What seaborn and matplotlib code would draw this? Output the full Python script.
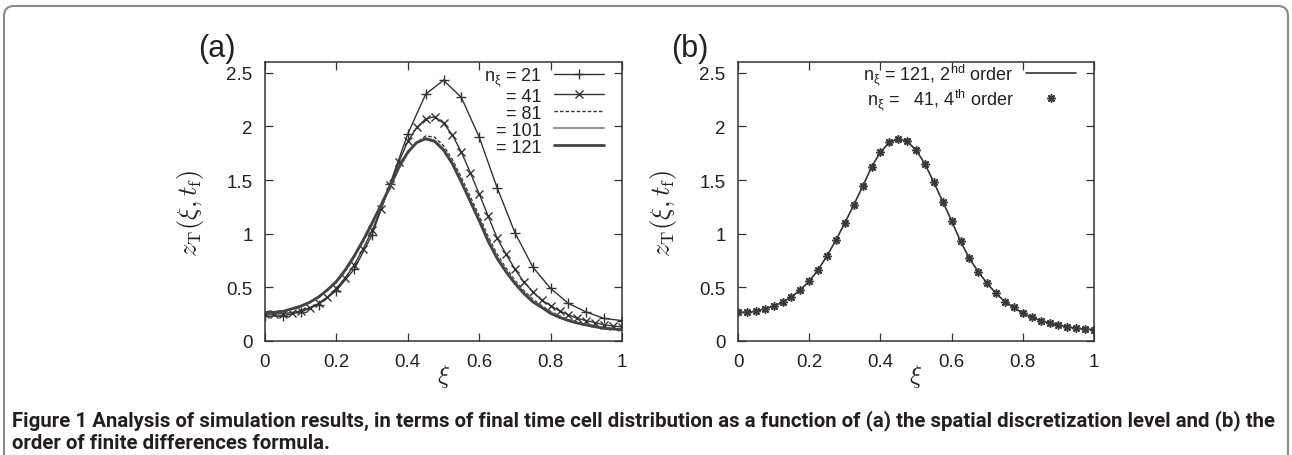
import numpy as np
import pandas as pd
import seaborn as sns
import matplotlib
matplotlib.use("Agg")
import matplotlib.pyplot as plt
from matplotlib.patches import FancyBboxPatch
from matplotlib import font_manager as fm

# ---------------- data ----------------
xi_21 = [0.0, 0.05, 0.1, 0.15, 0.2, 0.25, 0.3, 0.35, 0.4, 0.45, 0.5,
         0.55, 0.6, 0.65, 0.7, 0.75, 0.8, 0.85, 0.9, 0.95, 1.0]
z_21 = [0.23, 0.235, 0.27, 0.34, 0.47, 0.67, 0.99, 1.46, 1.93, 2.30, 2.43,
        2.27, 1.90, 1.43, 1.01, 0.69, 0.49, 0.35, 0.27, 0.21, 0.19]

xi_41 = [0.0, 0.025, 0.05, 0.075, 0.1, 0.125, 0.15, 0.175, 0.2, 0.225, 0.25,
         0.275, 0.3, 0.325, 0.35, 0.375, 0.4, 0.425, 0.45, 0.475, 0.5,
         0.525, 0.55, 0.575, 0.6, 0.625, 0.65, 0.675, 0.7, 0.725, 0.75,
         0.775, 0.8, 0.825, 0.85, 0.875, 0.9, 0.925, 0.95, 0.975, 1.0]
z_41 = [0.25, 0.25, 0.255, 0.265, 0.28, 0.31, 0.35, 0.41, 0.49, 0.59, 0.71,
        0.86, 1.03, 1.23, 1.45, 1.67, 1.86, 1.99, 2.07, 2.09, 2.03,
        1.92, 1.76, 1.57, 1.37, 1.165, 0.96, 0.81, 0.67, 0.55, 0.46,
        0.38, 0.33, 0.28, 0.245, 0.21, 0.19, 0.17, 0.15, 0.14, 0.13]
z_81 = [0.262, 0.263, 0.272, 0.295, 0.32, 0.355, 0.405, 0.47, 0.545, 0.65, 0.78,
        0.925, 1.085, 1.25, 1.425, 1.605, 1.75, 1.85, 1.91, 1.90, 1.82,
        1.69, 1.525, 1.345, 1.165, 0.975, 0.81, 0.68, 0.565, 0.47, 0.39,
        0.33, 0.275, 0.235, 0.2, 0.177, 0.157, 0.14, 0.125, 0.117, 0.11]
z_101 = [0.265, 0.266, 0.275, 0.298, 0.324, 0.36, 0.41, 0.476, 0.553, 0.66, 0.79,
         0.937, 1.097, 1.262, 1.436, 1.615, 1.757, 1.85, 1.89, 1.87, 1.79,
         1.66, 1.49, 1.31, 1.13, 0.945, 0.785, 0.655, 0.545, 0.452, 0.372,
         0.318, 0.262, 0.224, 0.193, 0.169, 0.151, 0.135, 0.12, 0.113, 0.106]
z_121 = [0.267, 0.267, 0.276, 0.30, 0.325, 0.36, 0.41, 0.477, 0.555, 0.663, 0.793,
         0.94, 1.10, 1.267, 1.44, 1.62, 1.76, 1.85, 1.884, 1.86, 1.78,
         1.65, 1.48, 1.30, 1.12, 0.93, 0.77, 0.645, 0.536, 0.443, 0.365,
         0.313, 0.257, 0.22, 0.19, 0.167, 0.149, 0.133, 0.118, 0.112, 0.105]
z_41_4th = [0.267, 0.267, 0.276, 0.30, 0.325, 0.36, 0.41, 0.477, 0.555, 0.663, 0.793,
            0.94, 1.10, 1.267, 1.44, 1.62, 1.76, 1.85, 1.884, 1.86, 1.78,
            1.65, 1.48, 1.30, 1.12, 0.93, 0.77, 0.645, 0.536, 0.443, 0.365,
            0.313, 0.257, 0.22, 0.19, 0.167, 0.149, 0.133, 0.118, 0.112, 0.105]

labels_a = [r"n$_\xi$ = 21", "= 41", "= 81", "= 101", "= 121"]
labels_b = [r"n$_\xi$ = 121, 2$^{\rm nd}$ order", r"n$_\xi$ =   41, 4$^{\rm th}$ order"]
xticks = [0, 0.2, 0.4, 0.6, 0.8, 1]
xtick_labels = ["0", "0.2", "0.4", "0.6", "0.8", "1"]
yticks = [0, 0.5, 1, 1.5, 2, 2.5]
ytick_labels = ["0", "0.5", "1", "1.5", "2", "2.5"]
caption1 = ("Figure 1 Analysis of simulation results, in terms of final time cell distribution "
            "as a function of (a) the spatial discretization level and (b) the")
caption2 = "order of finite differences formula."

# ---------------- style ----------------
sns.set_theme(style="ticks")
plt.rcParams["font.family"] = ["Liberation Sans", "DejaVu Sans"]
plt.rcParams["mathtext.fontset"] = "custom"
plt.rcParams["mathtext.rm"] = "Liberation Sans"
plt.rcParams["mathtext.it"] = "Liberation Sans"
plt.rcParams["mathtext.bf"] = "Liberation Sans:bold"

cap_fp = fm.FontProperties(family=["Roboto", "Liberation Sans", "DejaVu Sans"],
                           weight="bold")

W, H = 1292, 456
fig = plt.figure(figsize=(W / 100, H / 100), dpi=100)
fig.patch.set_facecolor("white")

def px_axes(l, r, t, b):
    return fig.add_axes([l / W, (H - b) / H, (r - l) / W, (b - t) / H])

ax_a = px_axes(265, 622, 63, 342)
ax_b = px_axes(738, 1094, 63, 342)

dark = "#333333"
df41 = pd.DataFrame({"xi": xi_41, "z81": z_81, "z101": z_101, "z121": z_121,
                     "z41": z_41, "z41_4th": z_41_4th})
df21 = pd.DataFrame({"xi": xi_21, "z21": z_21})

sns.lineplot(data=df21, x="xi", y="z21", ax=ax_a, color=dark, lw=1.0,
             marker="+", markersize=7, markeredgewidth=1.0, markeredgecolor=dark,
             label=labels_a[0])
sns.lineplot(data=df41, x="xi", y="z41", ax=ax_a, color=dark, lw=1.0,
             marker="x", markersize=5.5, markeredgewidth=1.0, markeredgecolor=dark,
             label=labels_a[1])
sns.lineplot(data=df41, x="xi", y="z81", ax=ax_a, color=dark, lw=1.0,
             linestyle=(0, (2.5, 1.5)), label=labels_a[2])
sns.lineplot(data=df41, x="xi", y="z101", ax=ax_a, color="#9a9a9a", lw=1.6,
             label=labels_a[3])
sns.lineplot(data=df41, x="xi", y="z121", ax=ax_a, color="#444444", lw=2.0,
             label=labels_a[4])

sns.lineplot(data=df41, x="xi", y="z121", ax=ax_b, color=dark, lw=1.2,
             label=labels_b[0])
sns.lineplot(data=df41, x="xi", y="z41_4th", ax=ax_b, color=dark, linestyle="none",
             marker=(8, 2, 0), markersize=6, markeredgewidth=1.1, markeredgecolor="#3a3a3a",
             label=labels_b[1])

for ax in (ax_a, ax_b):
    ax.set_xlim(0, 1)
    ax.set_ylim(0, 2.6)
    ax.set_xticks(xticks)
    ax.set_xticklabels(xtick_labels)
    ax.set_yticks(yticks)
    ax.set_yticklabels(ytick_labels)
    ax.tick_params(direction="in", length=6, width=0.9, color=dark,
                   top=True, right=True, labelsize=13.5, labelcolor="#222222", pad=9)
    for s in ax.spines.values():
        s.set_visible(True)
        s.set_color(dark)
        s.set_linewidth(1.1)
    ax.set_facecolor("white")
    ax.grid(False)
    ax.set_xlabel(r"$\xi$", fontsize=18, math_fontfamily="cm", color="#222222")
    ax.set_ylabel(r"$z_{\rm T}(\xi, t_{\rm f})$", fontsize=19, math_fontfamily="cm",
                  color="#222222")
    ax.xaxis.set_label_coords(0.5, -0.075)
    ax.yaxis.set_label_coords(-0.165, 0.46)

def make_legend(ax, anchor, spacing):
    leg = ax.legend(loc="upper right", bbox_to_anchor=anchor, frameon=False,
                    markerfirst=False, fontsize=13, handlelength=2.75,
                    handletextpad=0.7, labelspacing=spacing, borderpad=0,
                    borderaxespad=0)
    for col in leg._legend_handle_box.get_children():
        col.align = "right"
    for t in leg.get_texts():
        t.set_color("#222222")
    return leg

leg_a = make_legend(ax_a, ((604 - 265) / 357, (342 - 66) / 279), 0.0)
leg_b = make_legend(ax_b, ((1076 - 738) / 356, (342 - 62) / 279), 0.0)

fig.text(198 / W, 1 - 57 / H, "(a)", fontsize=22, va="baseline", ha="left", color="#222222")
fig.text(671 / W, 1 - 57 / H, "(b)", fontsize=22, va="baseline", ha="left", color="#222222")

# caption
t1 = fig.text(12 / W, 1 - 426 / H, caption1, fontproperties=cap_fp, fontsize=12,
              va="baseline", ha="left", color="#231f20")
fig.canvas.draw()
w1 = t1.get_window_extent().width
fs = 12 * 1263 / w1
t1.set_fontsize(fs)
fig.text(12 / W, 1 - 449 / H, caption2, fontproperties=cap_fp, fontsize=fs,
         va="baseline", ha="left", color="#231f20")

# outer rounded frame
box = FancyBboxPatch((4, -40), W - 8, H - 7 + 40,
                     boxstyle="round,pad=0,rounding_size=10",
                     transform=None, fill=False, edgecolor="#8a8a8a", lw=1.5)
fig.patches.append(box)

fig.savefig("out.png", dpi=100, facecolor="white")
